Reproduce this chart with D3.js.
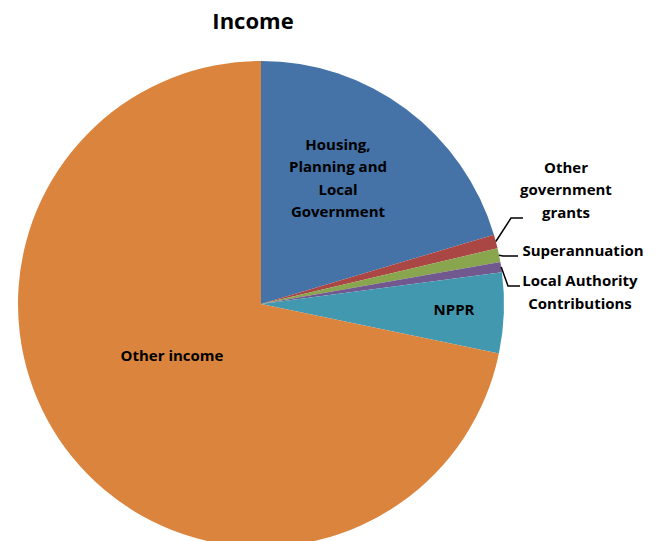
<!DOCTYPE html>
<html><head><meta charset="utf-8">
<script src="https://cdn.jsdelivr.net/npm/d3@7"></script>
<style>body{margin:0;background:#fff}text{font-family:"Open Sans",Lato,sans-serif;font-weight:bold;fill:#000}</style>
</head><body><svg id="c" width="660" height="541"></svg>
<script>
const categories = ["Housing, Planning and Local Government","Other government grants","Superannuation","Local Authority Contributions","NPPR","Other income"];
const values = [20.4, 0.92, 0.92, 0.67, 5.36, 71.73];
const colors = ["#4572A7","#AA4643","#89A54E","#71588F","#4198AF","#DB843D"];
const labelLines = [["Housing,","Planning and","Local","Government"],["Other","government","grants"],["Superannuation"],["Local Authority","Contributions"],["NPPR"],["Other income"]];

const svg = d3.select("#c");
const cx = 261, cy = 304, r = 243;
svg.append("text").attr("x",253).attr("y",29).attr("text-anchor","middle").style("font-size","22px").text("Income");
const g = svg.append("g").attr("transform",`translate(${cx},${cy})`);
const pie = d3.pie().sort(null).value(d=>d)(values);
const arc = d3.arc().innerRadius(0).outerRadius(r);
g.selectAll("path").data(pie).enter().append("path").attr("d",arc).attr("fill",(d,i)=>colors[i]);

const fs = 15, lh = 22.5;
function block(lines, x, y, anchor){
  const t = svg.append("text").attr("text-anchor",anchor||"middle").style("font-size",fs+"px");
  const y0 = y - (lines.length-1)*lh/2;
  lines.forEach((l,k)=>t.append("tspan").attr("x",x).attr("y",y0+k*lh).attr("dy","0.35em").text(l));
}
// inside labels
const inside = {0:[338,178],4:[454,310],5:[172,356]};
Object.entries(inside).forEach(([i,p])=>block(labelLines[i],p[0],p[1]));
// outside labels with leaders
const outer = [
  {i:1, text:[566,190], pts:[[511,218],[523,218]]},
  {i:2, text:[583,251], pts:[[503,256],[518,256]]},
  {i:3, text:[580,292], pts:[[508,286],[520,286]]}
];
outer.forEach(o=>{
  const d = pie[o.i];
  const a = (d.startAngle+d.endAngle)/2;
  const sx = cx + r*Math.sin(a), sy = cy - r*Math.cos(a);
  svg.append("path").attr("d",d3.line()([[sx,sy],...o.pts])).attr("fill","none").attr("stroke","#000").attr("stroke-width",1.5);
  block(labelLines[o.i],o.text[0],o.text[1]);
});
</script></body></html>
